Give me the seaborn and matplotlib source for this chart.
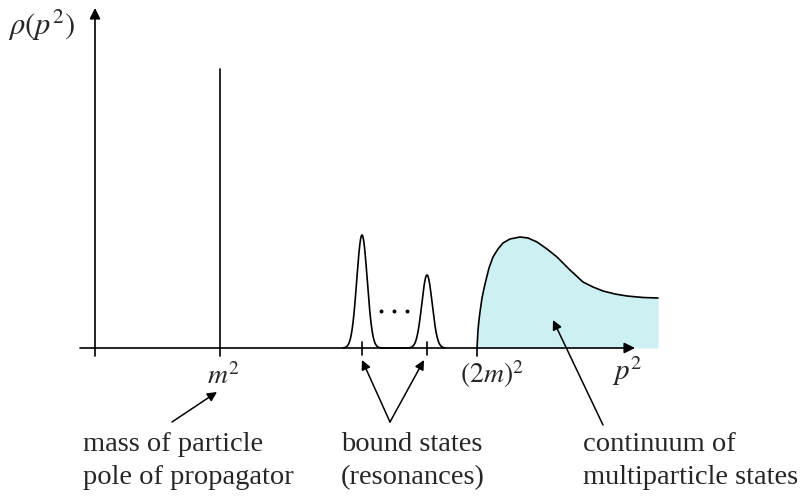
import numpy as np
import pandas as pd
import matplotlib
matplotlib.use("Agg")
import matplotlib.pyplot as plt
import seaborn as sns

# ---- data (schematic units: x = p^2, y = rho) ----
pole_x = 125
pole_height = 279

peak_centers = [267, 332]
peak_heights = [113, 73]
peak_sigma = 5.2

cont_x = [382, 383, 384, 385, 387, 390, 394, 398, 403, 408, 415, 425, 433, 442,
          452, 462, 475, 488, 498, 508, 520, 532, 548, 563]
cont_y = [0, 18, 28, 36, 50, 64, 80, 91, 99, 105, 109, 111, 110, 106,
          99, 91, 78, 66, 61, 57, 54, 52, 50.5, 50]

tick_labels = {"m2": r"$m^2$", "2m2": r"$(2m)^2$", "p2": r"$p^2$"}
ylabel = r"$\rho(p^2)$"
notes = [["mass of particle", "pole of propagator"],
         ["bound states", "(resonances)"],
         ["continuum of", "multiparticle states"]]

sns.set_theme(style="white")
plt.rcParams["font.family"] = ["Liberation Serif", "DejaVu Serif"]
plt.rcParams["mathtext.fontset"] = "stix"

fig = plt.figure(figsize=(8.07, 4.97), dpi=100)
ax = fig.add_axes([0, 0, 1, 1])
ax.set_xlim(-95, 712)
ax.set_ylim(-149, 348)
ax.axis("off")

black = "black"
lw = 1.2

# continuum fill and curve
df_c = pd.DataFrame({"x": cont_x, "y": cont_y})
ax.fill_between(cont_x, 0, cont_y, color="#cdf0f2", lw=0, zorder=1)
sns.lineplot(data=df_c, x="x", y="y", ax=ax, color=black, lw=lw, sort=False, zorder=3)
ax.plot([cont_x[0], cont_x[0]], [-8, 0], color=black, lw=lw, zorder=3)

# resonance peaks
xs = np.linspace(240, 360, 600)
rho = np.zeros_like(xs)
for c, h in zip(peak_centers, peak_heights):
    rho += h * np.exp(-0.5 * ((xs - c) / peak_sigma) ** 2)
mask = (xs > 248) & (xs < 350)
sns.lineplot(x=xs[mask], y=rho[mask], ax=ax, color=black, lw=lw, zorder=3)
for c in peak_centers:
    ax.plot([c, c], [-7, 6], color=black, lw=lw, zorder=3)
for dx in [19, 32, 45]:
    ax.plot(peak_centers[0] + dx, 37, "o", color=black, ms=1.8, zorder=3)

# pole (delta function)
ax.plot([pole_x, pole_x], [-8, pole_height], color=black, lw=lw, zorder=3)

# axes
ax.plot([-15, 0], [0, 0], color=black, lw=lw, zorder=2)
ax.annotate("", xy=(540, 0), xytext=(-1, 0),
            arrowprops=dict(arrowstyle="-|>", color=black, lw=lw,
                            mutation_scale=16, shrinkA=0, shrinkB=0), zorder=4)
ax.annotate("", xy=(0, 340), xytext=(0, -8),
            arrowprops=dict(arrowstyle="-|>", color=black, lw=lw,
                            mutation_scale=16, shrinkA=0, shrinkB=0), zorder=4)

# labels
fs = 20.5
ax.text(-53, 323, ylabel, fontsize=22, ha="center", va="center")
ax.text(pole_x + 3, -29, tick_labels["m2"], fontsize=20, ha="center", va="center")
ax.text(397, -26, tick_labels["2m2"], fontsize=20, ha="center", va="center")
ax.text(532, -23, tick_labels["p2"], fontsize=21, ha="center", va="center")

note_x = [-12, 246, 488]
for x0, (l1, l2) in zip(note_x, notes):
    ax.text(x0, -103, l1, fontsize=fs, ha="left", va="baseline")
    ax.text(x0, -136, l2, fontsize=fs, ha="left", va="baseline")

arrow_kw = dict(arrowstyle="-|>", color=black, lw=1.1, mutation_scale=14,
                shrinkA=0, shrinkB=0)
ax.annotate("", xy=(122, -44), xytext=(77, -74), arrowprops=arrow_kw)
ax.annotate("", xy=(267, -12), xytext=(295, -74), arrowprops=arrow_kw)
ax.annotate("", xy=(329, -12), xytext=(295, -74), arrowprops=arrow_kw)
ax.annotate("", xy=(458, 28), xytext=(508, -77), arrowprops=arrow_kw)

fig.savefig("out.png", dpi=100)
